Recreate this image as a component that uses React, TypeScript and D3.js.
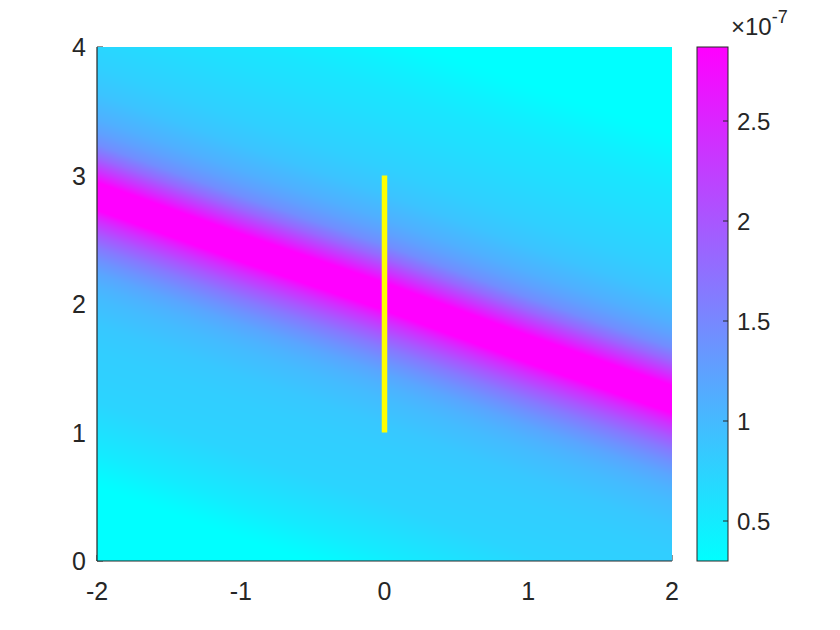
import React, { useMemo } from "react";
import * as d3 from "d3";

// centre of the bright band, read at a few x positions
const bandX = [-2, -1, 0, 1, 2];
const bandY = [2.84, 2.44, 2.06, 1.65, 1.26];

// field (units of 1e-7) across the band: vertical offset from the band centre -> value
const profileOffset = [
  -3, -2.6, -2.4, -2.2, -2.0, -1.8, -1.6, -1.4, -1.2, -1.0, -0.8, -0.7, -0.6, -0.5, -0.4, -0.3, -0.25, -0.2, -0.15,
  -0.1, -0.05, 0, 0.05, 0.1, 0.15, 0.2, 0.25, 0.3, 0.4, 0.5, 0.6, 0.7, 0.8, 1.0, 1.2, 1.4, 1.6, 1.8, 2.0, 2.2, 2.4, 3.0,
];
const profileValue = [
  0.12, 0.15, 0.22, 0.34, 0.5, 0.62, 0.73, 0.77, 0.8, 0.86, 0.98, 1.07, 1.2, 1.4, 1.65, 1.98, 2.18, 2.38, 2.62, 2.92,
  3.2, 3.4, 3.2, 2.9, 2.6, 2.33, 2.08, 1.83, 1.45, 1.25, 1.1, 1.0, 0.9, 0.78, 0.7, 0.62, 0.55, 0.45, 0.33, 0.25, 0.2,
  0.15,
];

const xTicks = [-2, -1, 0, 1, 2];
const yTicks = [0, 1, 2, 3, 4];
const colorLimits = [0.3, 2.87];
const colorTicks = [0.5, 1, 1.5, 2, 2.5];

// yellow segment
const segX = [0, 0];
const segY = [1, 3];

const W = 840;
const H = 630;
const left = 97, right = 672, top = 47, bottom = 561;
const cbLeft = 697, cbRight = 728;
const ink = "#262626";
const font = "'Liberation Sans', Arial, Helvetica, sans-serif";

const x = d3.scaleLinear().domain([-2, 2]).range([left, right]);
const y = d3.scaleLinear().domain([0, 4]).range([bottom, top]);
const cb = d3.scaleLinear().domain(colorLimits).range([bottom, top]);
const tScale = d3.scaleLinear().domain(colorLimits).range([0, 1]).clamp(true);
const centre = d3.scaleLinear().domain(bandX).range(bandY);
const profile = d3.scaleLinear().domain(profileOffset).range(profileValue).clamp(true);
// matlab "cool": cyan -> magenta
const cool = d3.interpolateRgb("#00ffff", "#ff00ff");

function fieldImage() {
  const w = Math.round(right - left);
  const h = Math.round(bottom - top);
  const canvas = document.createElement("canvas");
  canvas.width = w;
  canvas.height = h;
  const ctx = canvas.getContext("2d");
  if (!ctx) return "";
  const img = ctx.createImageData(w, h);
  for (let px = 0; px < w; px++) {
    const yc = centre(x.invert(left + px + 0.5));
    for (let py = 0; py < h; py++) {
      const v = profile(y.invert(top + py + 0.5) - yc);
      const t = tScale(v);
      const k = (py * w + px) * 4;
      img.data[k] = Math.round(255 * t);
      img.data[k + 1] = Math.round(255 * (1 - t));
      img.data[k + 2] = 255;
      img.data[k + 3] = 255;
    }
  }
  ctx.putImageData(img, 0, 0);
  return canvas.toDataURL();
}

export default function App() {
  const href = useMemo(() => fieldImage(), []);

  return (
    <svg
      width={W}
      height={H}
      style={{ position: "absolute", left: 0, top: 0, background: "#fff" }}
      fontFamily={font}
    >
      <defs>
        <linearGradient id="coolbar" x1="0" y1="1" x2="0" y2="0">
          <stop offset="0%" stopColor={cool(0)} />
          <stop offset="100%" stopColor={cool(1)} />
        </linearGradient>
      </defs>

      {/* ticks sit below the image, like matlab */}
      <g stroke={ink} strokeWidth={1}>
        {xTicks.map((d) => (
          <line key={"xt" + d} x1={x(d)} x2={x(d)} y1={bottom} y2={bottom - 6} />
        ))}
        {yTicks.map((d) => (
          <line key={"yt" + d} x1={left} x2={left + 6} y1={y(d)} y2={y(d)} />
        ))}
      </g>

      <image
        href={href}
        x={left}
        y={top}
        width={right - left}
        height={bottom - top}
        preserveAspectRatio="none"
      />

      <line
        x1={x(segX[0])}
        x2={x(segX[1])}
        y1={y(segY[0])}
        y2={y(segY[1])}
        stroke="#ffff00"
        strokeWidth={5.5}
      />

      {/* axis lines: left and bottom only */}
      <line x1={left} x2={left} y1={top} y2={bottom} stroke={ink} strokeWidth={1.2} />
      <line x1={left} x2={right} y1={bottom} y2={bottom} stroke={ink} strokeWidth={1.2} />

      <g fill={ink} fontSize={25}>
        {xTicks.map((d) => (
          <text key={"xl" + d} x={x(d)} y={600} textAnchor="middle">
            {d}
          </text>
        ))}
        {yTicks.map((d) => (
          <text key={"yl" + d} x={left - 11} y={y(d)} dy="0.36em" textAnchor="end">
            {d}
          </text>
        ))}
      </g>

      {/* colorbar */}
      <rect
        x={cbLeft}
        y={top}
        width={cbRight - cbLeft}
        height={bottom - top}
        fill="url(#coolbar)"
        stroke={ink}
        strokeWidth={1}
      />
      <g stroke={ink} strokeWidth={1}>
        {colorTicks.map((d) => (
          <line key={"ct" + d} x1={cbRight - 5} x2={cbRight} y1={cb(d)} y2={cb(d)} />
        ))}
      </g>
      <g fill={ink} fontSize={24}>
        {colorTicks.map((d) => (
          <text key={"cl" + d} x={cbRight + 9} y={cb(d)} dy="0.36em">
            {d}
          </text>
        ))}
      </g>
      <text x={731} y={35} fill={ink} fontSize={24}>
        <tspan>×10</tspan>
        <tspan dy={-12} fontSize={18}>-7</tspan>
      </text>
    </svg>
  );
}
